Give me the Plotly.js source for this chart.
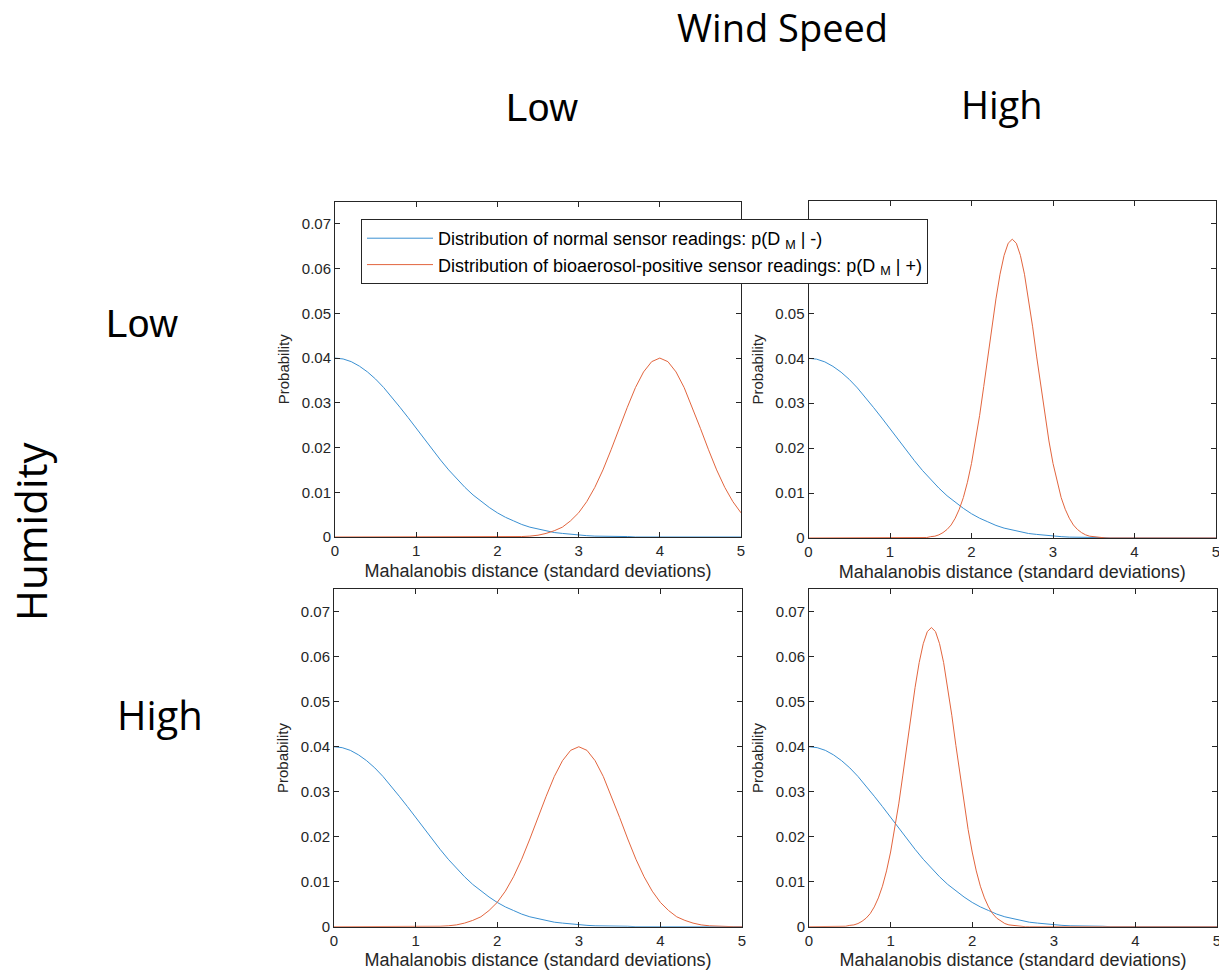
<!DOCTYPE html>
<html>
<head>
<meta charset="utf-8">
<script src="https://cdn.plot.ly/plotly-3.0.1.min.js"></script>
<style>html,body{margin:0;padding:0;background:#fff;}</style>
</head>
<body>
<div id="chart" style="width:1219px;height:970px;"></div>
<script>
// ---- DATA ----
// Mahalanobis distance grid (standard deviations), step 0.1
const xGrid = [0,0.1,0.2,0.3,0.4,0.5,0.6,0.7,0.8,0.9,1.0,1.1,1.2,1.3,1.4,1.5,1.6,1.7,1.8,1.9,2.0,
  2.1,2.2,2.3,2.4,2.5,2.6,2.7,2.8,2.9,3.0,3.1,3.2,3.3,3.4,3.5,3.6,3.7,3.8,3.9,4.0,
  4.1,4.2,4.3,4.4,4.5,4.6,4.7,4.8,4.9,5.0];

// Distribution of normal sensor readings p(D_M | -)  (same in all four panels)
const normalReadings = [0.0400,0.0398,0.0392,0.0382,0.0369,0.0353,0.0334,0.0313,0.0290,0.0267,0.0243,
  0.0218,0.0195,0.0172,0.0150,0.0130,0.0111,0.0094,0.0079,0.0066,0.0054,
  0.0044,0.0036,0.0028,0.0022,0.0018,0.0014,0.0010,0.0008,0.0006,0.0004,
  0.0003,0.0002,0.0002,0.0001,0.0001,0.0001,0,0,0,0,0,0,0,0,0,0,0,0,0,0];

// Bioaerosol-positive readings p(D_M | +), Humidity Low / Wind Low (peak near 4)
const positiveHumLowWindLow = [0,0,0,0,0,0,0,0,0,0,0,0,0,0,0,0,0,0,0,0,0,
  0,0.0001,0.0001,0.0002,0.0004,0.0008,0.0014,0.0022,0.0036,0.0054,
  0.0079,0.0111,0.0150,0.0195,0.0243,0.0290,0.0334,0.0369,0.0392,0.0400,
  0.0392,0.0369,0.0334,0.0290,0.0243,0.0195,0.0150,0.0111,0.0079,0.0054];

// Humidity High / Wind Low (peak near 3)
const positiveHumHighWindLow = [0,0,0,0,0,0,0,0,0,0,0,
  0,0.0001,0.0001,0.0002,0.0004,0.0008,0.0014,0.0022,0.0036,0.0054,
  0.0079,0.0111,0.0150,0.0195,0.0243,0.0290,0.0334,0.0369,0.0392,0.0400,
  0.0392,0.0369,0.0334,0.0290,0.0243,0.0195,0.0150,0.0111,0.0079,0.0054,
  0.0036,0.0022,0.0014,0.0008,0.0004,0.0002,0.0001,0.0001,0,0];

// Humidity Low / Wind High (narrow peak near 2.5)
const xHumLowWindHigh = [0,1.30,1.35,1.40,1.45,1.50,1.55,1.60,1.65,1.70,1.75,1.80,1.85,1.90,1.95,
  2.00,2.05,2.10,2.15,2.20,2.25,2.30,2.35,2.40,2.45,2.50,2.55,2.60,2.65,2.70,2.75,2.80,2.85,
  2.90,2.95,3.00,3.05,3.10,3.15,3.20,3.25,3.30,3.35,3.40,3.45,3.50,3.55,3.60,3.65,3.70,5];
const positiveHumLowWindHigh = [0,0,0,0.0001,0.0001,0.0003,0.0004,0.0007,0.0012,0.0019,0.0029,0.0044,
  0.0064,0.0090,0.0124,0.0166,0.0216,0.0273,0.0337,0.0403,0.0470,0.0532,0.0587,0.0629,0.0656,
  0.0665,0.0656,0.0629,0.0587,0.0532,0.0470,0.0403,0.0337,0.0273,0.0216,0.0166,0.0124,0.0090,
  0.0064,0.0044,0.0029,0.0019,0.0012,0.0007,0.0004,0.0003,0.0001,0.0001,0,0,0];

// Humidity High / Wind High (narrow peak near 1.5)
const xHumHighWindHigh = [0,0.30,0.35,0.40,0.45,0.50,0.55,0.60,0.65,0.70,0.75,0.80,0.85,0.90,0.95,
  1.00,1.05,1.10,1.15,1.20,1.25,1.30,1.35,1.40,1.45,1.50,1.55,1.60,1.65,1.70,1.75,1.80,1.85,
  1.90,1.95,2.00,2.05,2.10,2.15,2.20,2.25,2.30,2.35,2.40,2.45,2.50,2.55,2.60,2.65,2.70,5];
const positiveHumHighWindHigh = [0,0,0,0.0001,0.0001,0.0003,0.0004,0.0007,0.0012,0.0019,0.0029,0.0044,
  0.0064,0.0090,0.0124,0.0166,0.0216,0.0273,0.0337,0.0403,0.0470,0.0532,0.0587,0.0629,0.0656,
  0.0665,0.0656,0.0629,0.0587,0.0532,0.0470,0.0403,0.0337,0.0273,0.0216,0.0166,0.0124,0.0090,
  0.0064,0.0044,0.0029,0.0019,0.0012,0.0007,0.0004,0.0003,0.0001,0.0001,0,0,0];

const seriesNames = [
  'Distribution of normal sensor readings: p(D <sub>M</sub> | -)',
  'Distribution of bioaerosol-positive sensor readings: p(D <sub>M</sub> | +)'
];
const xTitle = 'Mahalanobis distance (standard deviations)';
const yTitle = 'Probability';
const windLabels = ['Low', 'High'];
const humidityLabels = ['Low', 'High'];

// ---- STYLE ----
const BLUE = '#3a90d2';
const RED = '#e2653e';
const AXC = '#262626';
const FONT = 'Liberation Sans, Arial, Helvetica, sans-serif';
const BIG = 'Open Sans, Noto Sans, DejaVu Sans, sans-serif';

const panels = [
  {xa:'x',  ya:'y',  blueX:xGrid, redX:xGrid,            redY:positiveHumLowWindLow,  legend:true},
  {xa:'x2', ya:'y2', blueX:xGrid, redX:xHumLowWindHigh,  redY:positiveHumLowWindHigh, legend:false},
  {xa:'x3', ya:'y3', blueX:xGrid, redX:xGrid,            redY:positiveHumHighWindLow, legend:false},
  {xa:'x4', ya:'y4', blueX:xGrid, redX:xHumHighWindHigh, redY:positiveHumHighWindHigh,legend:false}
];

const traces = [];
panels.forEach(p => {
  traces.push({type:'scatter', mode:'lines', x:p.blueX, y:normalReadings, xaxis:p.xa, yaxis:p.ya,
    name:seriesNames[0], legendgroup:'neg', showlegend:p.legend, line:{color:BLUE, width:1}, hoverinfo:'x+y'});
  traces.push({type:'scatter', mode:'lines', x:p.redX, y:p.redY, xaxis:p.xa, yaxis:p.ya,
    name:seriesNames[1], legendgroup:'pos', showlegend:p.legend, line:{color:RED, width:1}, hoverinfo:'x+y'});
});

function xAxis(domain, anchor) {
  return {domain:domain, anchor:anchor, range:[0,5], dtick:1, tick0:0, showgrid:false, zeroline:false,
    showline:true, linecolor:AXC, linewidth:1, mirror:'ticks', ticks:'inside', ticklen:5, tickcolor:AXC,
    ticklabeloverflow:'allow',
    tickfont:{family:FONT, size:15, color:AXC},
    title:{text:xTitle, font:{family:FONT, size:18, color:AXC}, standoff:6}};
}
function yAxis(domain, anchor) {
  return {domain:domain, anchor:anchor, range:[0,0.075], dtick:0.01, tick0:0, showgrid:false, zeroline:false,
    showline:true, linecolor:AXC, linewidth:1, mirror:'ticks', ticks:'inside', ticklen:5, tickcolor:AXC,
    ticklabeloverflow:'allow',
    tickfont:{family:FONT, size:15, color:AXC},
    title:{text:yTitle, font:{family:FONT, size:15, color:AXC}, standoff:8}};
}

const W = 1219, H = 970;
const px = v => v / W;
const py = v => 1 - v / H;

const layout = {
  width:W, height:H, margin:{l:0, r:0, t:0, b:0},
  paper_bgcolor:'#ffffff', plot_bgcolor:'#ffffff',
  font:{family:FONT, color:'#000'},
  showlegend:true,
  legend:{x:px(361), y:py(219), xanchor:'left', yanchor:'top', bgcolor:'#ffffff',
    bordercolor:AXC, borderwidth:1, font:{family:FONT, size:18, color:'#000'},
    itemwidth:66, tracegroupgap:0},
  xaxis:  xAxis([px(335), px(741)], 'y'),
  yaxis:  yAxis([py(537), py(201.5)], 'x'),
  xaxis2: xAxis([px(808.5), px(1216)], 'y2'),
  yaxis2: yAxis([py(538), py(201)], 'x2'),
  xaxis3: xAxis([px(334), px(742)], 'y3'),
  yaxis3: yAxis([py(926.7), py(589.3)], 'x3'),
  xaxis4: xAxis([px(809), px(1217)], 'y4'),
  yaxis4: yAxis([py(926.7), py(589.3)], 'x4'),
  annotations:[
    {text:'Wind Speed', x:px(782), y:py(27), xref:'paper', yref:'paper', xanchor:'center', yanchor:'middle', showarrow:false, font:{family:BIG, size:38, color:'#000'}},
    {text:windLabels[0], x:px(542), y:py(107), xref:'paper', yref:'paper', xanchor:'center', yanchor:'middle', showarrow:false, font:{family:FONT, size:39, color:'#000'}},
    {text:windLabels[1], x:px(1002), y:py(104), xref:'paper', yref:'paper', xanchor:'center', yanchor:'middle', showarrow:false, font:{family:BIG, size:38, color:'#000'}},
    {text:humidityLabels[0], x:px(142), y:py(324), xref:'paper', yref:'paper', xanchor:'center', yanchor:'middle', showarrow:false, font:{family:FONT, size:39, color:'#000'}},
    {text:humidityLabels[1], x:px(160), y:py(714), xref:'paper', yref:'paper', xanchor:'center', yanchor:'middle', showarrow:false, font:{family:BIG, size:40, color:'#000'}},
    {text:'Humidity', x:px(30), y:py(532), xref:'paper', yref:'paper', xanchor:'center', yanchor:'middle', textangle:-90, showarrow:false, font:{family:BIG, size:42, color:'#000'}}
  ]
};

Plotly.newPlot('chart', traces, layout, {displayModeBar:false, responsive:false});
</script>
</body>
</html>
